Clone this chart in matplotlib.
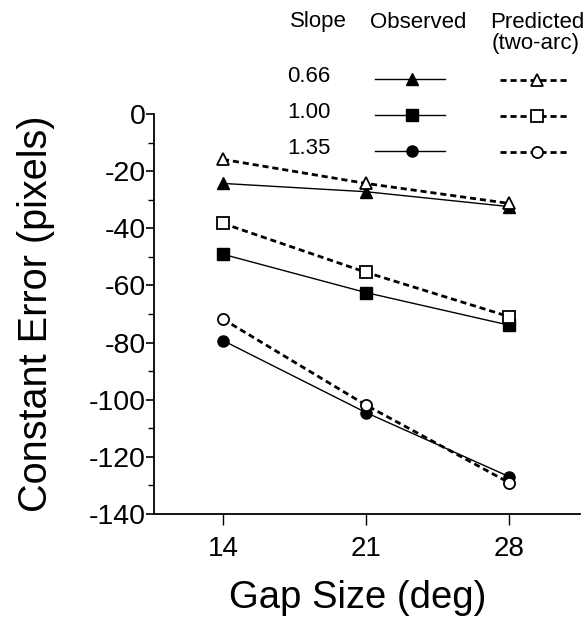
import matplotlib
matplotlib.use("Agg")
import matplotlib.pyplot as plt
from matplotlib.lines import Line2D
from matplotlib.ticker import MultipleLocator

plt.rcParams['font.family'] = ['Liberation Sans', 'DejaVu Sans']
plt.rcParams['axes.unicode_minus'] = False

gap = [14, 21, 28]
slopes = ["0.66", "1.00", "1.35"]
observed = {
    "0.66": [-24.3, -27.2, -32.4],
    "1.00": [-49.1, -62.5, -73.9],
    "1.35": [-79.3, -104.5, -126.9],
}
predicted = {
    "0.66": [-15.9, -24.3, -31.3],
    "1.00": [-38.3, -55.4, -70.9],
    "1.35": [-71.8, -101.9, -129.0],
}
markers = {"0.66": "^", "1.00": "s", "1.35": "o"}
msize = {"0.66": 8, "1.00": 8, "1.35": 8}

W, H = 587, 620
fig = plt.figure(figsize=(W / 100, H / 100), dpi=100)
ax = fig.add_axes([154 / W, 1 - 514 / H, (580 - 154) / W, (514 - 114) / H])

dash = (2.2, 1.4)
for s in slopes:
    ax.plot(gap, observed[s], color='black', lw=1.0, marker=markers[s],
            ms=msize[s], mfc='black', mec='black', clip_on=False, zorder=3)
    ax.plot(gap, predicted[s], color='black', lw=2.0, linestyle=(0, dash),
            marker=markers[s], ms=msize[s], mfc='white', mec='black', mew=1.3,
            clip_on=False, zorder=4)

ax.set_xlim(10.62, 31.48)
ax.set_ylim(-140, 0)
ax.set_xticks(gap)
ax.set_yticks(range(-140, 1, 20))
ax.yaxis.set_minor_locator(MultipleLocator(10))
ax.spines['top'].set_visible(False)
ax.spines['right'].set_visible(False)
for sp in ('left', 'bottom'):
    ax.spines[sp].set_linewidth(1.3)
ax.tick_params(axis='y', which='major', direction='out', length=6, width=1.2,
               labelsize=20.5, pad=0)
ax.tick_params(axis='y', which='minor', direction='out', length=4, width=1.0)
ax.tick_params(axis='x', which='major', direction='out', length=8, width=1.0,
               labelsize=20, pad=8)
ax.set_xlabel("Gap Size (deg)", fontsize=27.5, labelpad=13)
ax.xaxis.label.set_x((358 - 154) / (580 - 154))
ax.set_ylabel("Constant Error (pixels)", fontsize=28.5, labelpad=24)

# legend table
def fx(px):
    return px / W

def fy(py):
    return 1 - py / H

fs = 16
fig.text(fx(290), fy(22), "Slope", fontsize=fs, ha='left', va='center')
fig.text(fx(370), fy(22), "Observed", fontsize=fs, ha='left', va='center')
fig.text(fx(490), fy(22), "Predicted", fontsize=fs, ha='left', va='center')
fig.text(fx(492), fy(43), "(two-arc)", fontsize=fs, ha='left', va='center')
rows_y = [77, 113, 149]
for s, ry in zip(slopes, rows_y):
    fig.text(fx(287), fy(ry - 1), s, fontsize=fs, ha='left', va='center')
    fig.add_artist(Line2D([fx(375), fx(445)], [fy(ry + 2), fy(ry + 2)], color='black', lw=1.0))
    fig.add_artist(Line2D([fx(412)], [fy(ry + 2)], marker=markers[s], ms=msize[s],
                          color='black', mfc='black', mec='black', lw=0))
    fig.add_artist(Line2D([fx(500), fx(567)], [fy(ry + 3), fy(ry + 3)], color='black',
                          lw=2.0, linestyle=(0, dash)))
    fig.add_artist(Line2D([fx(537)], [fy(ry + 3)], marker=markers[s], ms=msize[s],
                          color='black', mfc='white', mec='black', mew=1.3, lw=0))

fig.savefig("out.png", dpi=100)
